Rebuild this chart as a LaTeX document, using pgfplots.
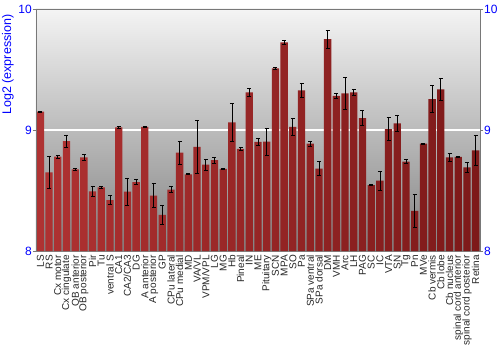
\documentclass[border=0pt]{standalone}
\usepackage{pgfplots}
\pgfplotsset{compat=1.18}
\usepackage{pgfplotstable}
\usepackage{fontspec}
\setmainfont{Liberation Sans}
\definecolor{bgtop}{RGB}{244,244,244}
\definecolor{bgbot}{RGB}{130,130,130}
\definecolor{barL}{RGB}{175,50,50}
\definecolor{barM}{RGB}{210,78,78}
\definecolor{barR}{RGB}{125,25,25}
\definecolor{axgray}{RGB}{120,120,120}
\pgfplotstableread{
x y err
0 9.151 0.005
1 8.650 0.135
2 8.779 0.010
3 8.909 0.050
4 8.675 0.006
5 8.774 0.025
6 8.493 0.040
7 8.526 0.010
8 8.421 0.035
9 9.022 0.005
10 8.490 0.110
11 8.570 0.020
12 9.025 0.006
13 8.457 0.100
14 8.298 0.080
15 8.507 0.025
16 8.813 0.095
17 8.634 0.004
18 8.860 0.220
19 8.713 0.047
20 8.750 0.028
21 8.678 0.004
22 9.063 0.160
23 8.843 0.015
24 9.311 0.035
25 8.901 0.030
26 8.904 0.110
27 9.510 0.005
28 9.725 0.020
29 9.025 0.070
30 9.328 0.058
31 8.887 0.020
32 8.680 0.058
33 9.750 0.072
34 9.281 0.018
35 9.303 0.130
36 9.311 0.023
37 9.099 0.062
38 8.545 0.004
39 8.581 0.076
40 9.008 0.094
41 9.055 0.063
42 8.738 0.017
43 8.331 0.138
44 8.887 0.005
45 9.256 0.110
46 9.336 0.094
47 8.774 0.036
48 8.777 0.004
49 8.692 0.044
50 8.832 0.127
}\datatable
\begin{document}
\begin{tikzpicture}
\begin{axis}[
  scale only axis, width=444pt, height=242pt,
  xmin=-0.5, xmax=50.5, ymin=8, ymax=10,
  axis line style={draw=none},
  axis background/.style={top color=bgtop, bottom color=bgbot},
  xtick=data,
  xticklabels={LS,RS,Cx motor,Cx cingulate,OB anterior,OB posterior,Pir,Tu,ventral S,CA1,CA2/CA3,DG,A anterior,A posterior,GP,CPu lateral,CPu medial,MD,VA/VL,VPM/VPL,LG,MG,Hb,Pineal,IN,ME,Pituitary,SCN,MPA,SO,Pa,SPa ventral,SPa dorsal,DM,VMH,Arc,LH,PAG,SC,IC,VTA,SN,Tg,Pn,MVe,Cb vermis,Cb lobe,Cb nucleus,spinal cord anterior,spinal cord posterior,Retina},
  xticklabel style={rotate=90, anchor=east, inner sep=1pt, font=\fontsize{10}{10}\selectfont, text=black!85},
  x tick style={draw=none},
  ytick={8,9,10},
  ytick pos=left,
  tick align=outside,
  major tick length=3pt,
  y tick style={axgray, line width=0.8pt},
  yticklabel style={text=blue, font=\fontsize{12}{12}\selectfont, inner sep=1pt},
  /pgf/number format/assume math mode=true,
  ylabel={Log2 (expression)},
  every axis y label/.style={at={(rel axis cs:0,0.77)}, rotate=90, anchor=center, yshift=28pt, inner sep=0pt, text=blue, font=\fontsize{12.5}{12.5}\selectfont},
  clip=false,
]
\draw[white, line width=1.5pt] (axis cs:-0.5,9) -- (axis cs:50.5,9);
\addplot[ybar, bar width=7.3pt, draw=none, left color=barL, middle color=barM, right color=barR,
  error bars/.cd, y dir=both, y explicit,
  error bar style={black, line width=0.7pt},
  error mark options={rotate=90, mark size=2pt, black, line width=0.7pt}]
  table[x=x, y=y, y error=err] {\datatable};
\draw[axgray, line width=0.9pt] (rel axis cs:0,0) -- (rel axis cs:0,1) -- (rel axis cs:1,1) -- (rel axis cs:1,0);
\coordinate (O) at (rel axis cs:0,0);
\end{axis}
\begin{axis}[
  scale only axis, width=444pt, height=242pt,
  xmin=-0.5, xmax=50.5, ymin=8, ymax=10,
  axis line style={draw=none},
  hide x axis,
  axis y line*=right,
  ytick={8,9,10},
  tick align=outside,
  major tick length=3pt,
  y tick style={axgray, line width=0.8pt},
  yticklabel style={text=blue, font=\fontsize{12}{12}\selectfont, inner sep=1pt},
  /pgf/number format/assume math mode=true,
]
\addplot[draw=none] coordinates {(0,8)};
\end{axis}
\path (O) ++(-36pt,-99pt) rectangle ++(500pt,350pt);
\end{tikzpicture}
\end{document}
